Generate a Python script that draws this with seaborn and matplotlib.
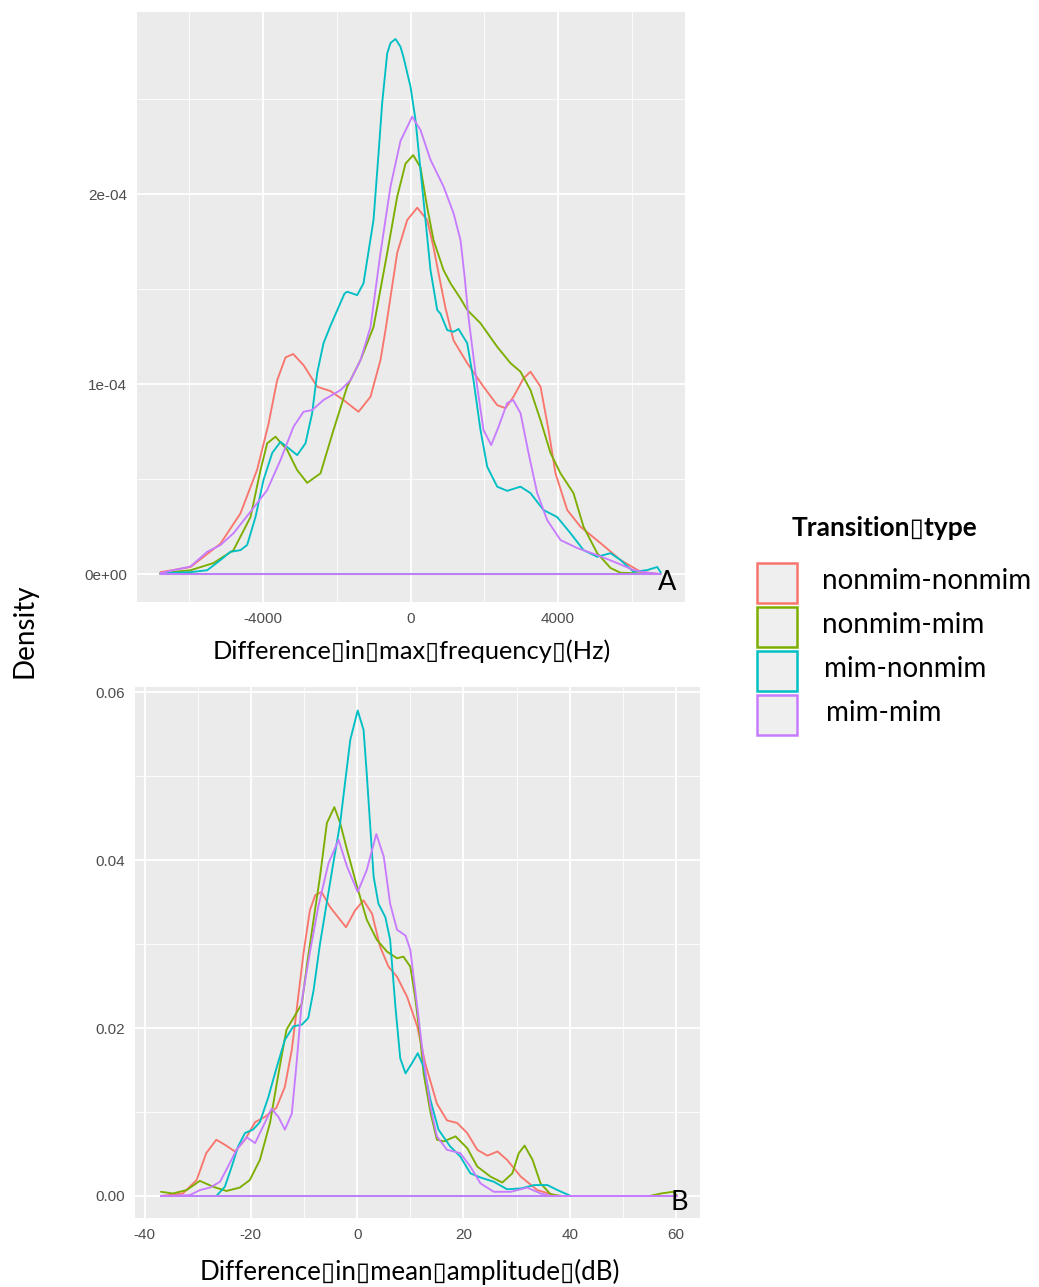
import numpy as np
import pandas as pd
import matplotlib
matplotlib.use("Agg")
import matplotlib.pyplot as plt
from matplotlib.patches import Rectangle
from matplotlib.ticker import FixedLocator
import seaborn as sns

# ---------------------------------------------------------------- data
types = ["nonmim-nonmim", "nonmim-mim", "mim-nonmim", "mim-mim"]
colors = ["#F8766D", "#7CAE00", "#00BFC4", "#C77CFF"]

# Panel A: difference in max frequency (Hz); density given in units of 1e-4
freq_nn_x = [-6780, -5966, -5153, -4610, -4158, -3851, -3616, -3390, -3182, -2902,
             -2531, -2170, -1817, -1410, -1085, -814, -678, -361, -90, 182,
             453, 624, 814, 949, 1166, 1538, 1980, 2351, 2576, 2793,
             3065, 3254, 3526, 3743, 3932, 4250, 4610, 5153, 5695, 6238, 6780]
freq_nn_y = [0.01, 0.037, 0.16, 0.32, 0.55, 0.79, 1.02, 1.14, 1.158, 1.10,
             0.986, 0.963, 0.916, 0.854, 0.933, 1.126, 1.284, 1.69, 1.863, 1.928,
             1.863, 1.72, 1.53, 1.40, 1.23, 1.11, 0.986, 0.889, 0.873, 0.933,
             1.03, 1.065, 0.986, 0.758, 0.53, 0.337, 0.249, 0.163, 0.074, 0.012, 0.0]

freq_nm_x = [-6780, -5966, -5343, -4800, -4339, -4068, -3887, -3661, -3345, -3073,
             -2802, -2441, -2088, -1718, -1356, -1003, -632, -361, -136, 73,
             271, 453, 624, 895, 1085, 1356, 1538, 1898, 2351, 2712,
             2983, 3254, 3526, 3797, 4068, 4420, 4692, 5063, 5424, 5695, 6780]
freq_nm_y = [0.005, 0.02, 0.058, 0.126, 0.30, 0.547, 0.688, 0.723, 0.653, 0.547,
             0.48, 0.53, 0.758, 0.986, 1.126, 1.30, 1.69, 1.986, 2.16, 2.205,
             2.14, 1.93, 1.758, 1.6, 1.53, 1.45, 1.39, 1.32, 1.196, 1.11,
             1.065, 0.968, 0.81, 0.637, 0.53, 0.426, 0.249, 0.11, 0.032, 0.007, 0.0]

freq_mn_x = [-6780, -5966, -5514, -5153, -4882, -4610, -4430, -4204, -3987, -3751,
             -3526, -3309, -3073, -2848, -2667, -2531, -2359, -2170, -1790, -1718,
             -1446, -1275, -1003, -868, -768, -632, -542, -407, -271, -190,
             0, 136, 271, 407, 542, 724, 814, 995, 1166, 1302,
             1538, 1709, 1898, 2080, 2351, 2622, 2983, 3254, 3607, 3978,
             4339, 4692, 5063, 5424, 5695, 6048, 6419, 6690, 6780]
freq_mn_y = [0.005, 0.01, 0.02, 0.074, 0.117, 0.126, 0.153, 0.30, 0.495, 0.637,
             0.696, 0.663, 0.626, 0.688, 0.847, 1.058, 1.215, 1.307, 1.476, 1.486,
             1.468, 1.53, 1.863, 2.21, 2.48, 2.74, 2.795, 2.816, 2.775, 2.72,
             2.565, 2.39, 2.126, 1.863, 1.6, 1.39, 1.37, 1.284, 1.275, 1.29,
             1.215, 1.02, 0.758, 0.565, 0.46, 0.438, 0.46, 0.426, 0.337, 0.30,
             0.215, 0.126, 0.091, 0.11, 0.074, 0.012, 0.021, 0.037, 0.01]

freq_mm_x = [-6780, -5966, -5514, -5153, -4800, -4339, -3887, -3526, -3173, -2902,
             -2667, -2359, -1898, -1627, -1356, -1085, -814, -542, -271, 46,
             271, 542, 895, 1166, 1356, 1470, 1573, 1809, 1980, 2189,
             2387, 2622, 2785, 2983, 3200, 3436, 3707, 4068, 4521, 5063,
             5606, 6048, 6419, 6780]
freq_mm_y = [0.005, 0.04, 0.117, 0.153, 0.215, 0.328, 0.442, 0.6, 0.775, 0.854,
             0.863, 0.916, 0.968, 1.02, 1.126, 1.30, 1.69, 2.04, 2.28, 2.407,
             2.337, 2.18, 2.04, 1.9, 1.758, 1.56, 1.35, 0.986, 0.758, 0.679,
             0.775, 0.9, 0.916, 0.847, 0.637, 0.426, 0.284, 0.179, 0.137, 0.1,
             0.058, 0.021, 0.007, 0.0]

# Panel B: difference in mean amplitude (dB)
amp_nn_x = [-36.9, -32.8, -30.2, -28.4, -26.5, -24.9, -23.0, -21.1, -19.2, -17.4,
            -15.2, -13.6, -12.3, -11.4, -10.1, -8.9, -7.9, -6.7, -5.1, -2.1,
            -0.4, 1.2, 2.8, 4.3, 5.9, 7.5, 9.4, 11.3, 12.8, 15.0,
            16.9, 18.8, 20.7, 22.6, 24.5, 26.4, 28.2, 30.8, 33.9, 37.7, 60.2]
amp_nn_y = [0.0, 0.0003, 0.0019, 0.0051, 0.0067, 0.0061, 0.0053, 0.0067, 0.0088, 0.0094,
            0.0105, 0.013, 0.0174, 0.0221, 0.0289, 0.034, 0.0358, 0.0362, 0.0344, 0.032,
            0.034, 0.0352, 0.0336, 0.0297, 0.0273, 0.0261, 0.0237, 0.0202, 0.0158, 0.011,
            0.009, 0.0087, 0.0075, 0.0055, 0.0048, 0.0053, 0.0043, 0.0023, 0.0007, 0.0, 0.0]

amp_nm_x = [-36.9, -34.7, -32.1, -29.6, -27.1, -24.6, -22.1, -20.2, -18.3, -16.4,
            -14.8, -13.3, -11.7, -10.4, -9.5, -8.2, -7.0, -5.7, -4.3, -3.2,
            -1.9, 0.0, 1.8, 3.7, 5.6, 7.5, 8.7, 10.0, 10.9, 11.9,
            12.5, 13.8, 15.0, 16.3, 18.5, 20.7, 22.6, 25.1, 27.3, 29.2,
            30.4, 31.5, 33.0, 34.5, 36.4, 38.5, 55.0, 57.2, 59.4, 60.2]
amp_nm_y = [0.0005, 0.0003, 0.0007, 0.0018, 0.0011, 0.0006, 0.001, 0.0019, 0.0043, 0.0087,
            0.0146, 0.0198, 0.0215, 0.0229, 0.0273, 0.0329, 0.038, 0.0444, 0.0463, 0.0444,
            0.0412, 0.0368, 0.0329, 0.0305, 0.0291, 0.0283, 0.0285, 0.0273, 0.0237, 0.0186,
            0.0146, 0.0099, 0.0067, 0.0065, 0.0071, 0.0057, 0.0035, 0.0023, 0.0016, 0.0027,
            0.0051, 0.006, 0.0043, 0.0015, 0.0002, 0.0, 0.0, 0.0003, 0.0005, 0.0]

amp_mn_x = [-36.9, -26.5, -24.9, -23.6, -22.4, -21.1, -19.6, -18.3, -16.7, -15.2,
            -13.6, -12.0, -10.4, -9.2, -8.2, -7.0, -5.7, -4.5, -3.2, -2.3,
            -1.3, 0.1, 1.2, 1.8, 2.5, 3.1, 4.0, 5.3, 6.2, 7.2,
            8.1, 9.1, 10.3, 11.4, 12.5, 13.8, 15.3, 17.5, 19.4, 21.3,
            23.2, 25.7, 28.2, 30.8, 33.3, 35.8, 37.7, 40.2, 60.2]
amp_mn_y = [0.0, 0.0, 0.0011, 0.0035, 0.0059, 0.0075, 0.0079, 0.0088, 0.0118, 0.0152,
            0.0186, 0.0202, 0.0204, 0.0212, 0.0245, 0.030, 0.035, 0.0396, 0.0444, 0.0491,
            0.0543, 0.0578, 0.0555, 0.0503, 0.0436, 0.038, 0.0348, 0.0332, 0.0305, 0.0225,
            0.0164, 0.0146, 0.0158, 0.017, 0.0154, 0.0114, 0.0079, 0.0059, 0.0047, 0.0027,
            0.0022, 0.0017, 0.0008, 0.0009, 0.0013, 0.0013, 0.0007, 0.0, 0.0]

amp_mm_x = [-36.9, -31.5, -29.6, -27.7, -25.8, -24.3, -22.7, -20.8, -19.2, -18.0,
            -16.1, -14.8, -13.6, -12.3, -11.4, -10.4, -8.9, -7.3, -5.4, -3.5,
            -1.9, 0.1, 1.8, 3.6, 5.0, 6.2, 7.5, 9.1, 10.0, 11.3,
            12.5, 13.8, 15.0, 16.9, 19.4, 21.3, 23.2, 25.7, 28.9, 32.0,
            34.5, 36.5, 60.2]
amp_mm_y = [0.0, 0.0001, 0.0007, 0.001, 0.0017, 0.0035, 0.0055, 0.007, 0.0063, 0.0079,
            0.0104, 0.0094, 0.0079, 0.0098, 0.0158, 0.0233, 0.029, 0.0345, 0.0396, 0.0424,
            0.0392, 0.0362, 0.0388, 0.0431, 0.0404, 0.0348, 0.0317, 0.031, 0.0293, 0.0225,
            0.0162, 0.0106, 0.0071, 0.0055, 0.0051, 0.0035, 0.0015, 0.0005, 0.0005, 0.001,
            0.0003, 0.0, 0.0]

freq_ticks = [-4000, 0, 4000]
freq_yticks = [0.0, 1e-4, 2e-4]
freq_ytick_labels = ["0e+00", "1e-04", "2e-04"]
amp_ticks = [-40, -20, 0, 20, 40, 60]
amp_yticks = [0.0, 0.02, 0.04, 0.06]
amp_ytick_labels = ["0.00", "0.02", "0.04", "0.06"]

title_font = ["Lato", "DejaVu Sans"]
BOX = "\u25AF"
freq_title = f"Difference{BOX}in{BOX}max{BOX}frequency{BOX}(Hz)"
amp_title = f"Difference{BOX}in{BOX}mean{BOX}amplitude{BOX}(dB)"
legend_title = f"Transition{BOX}type"


def outline_frame(series, scale=1.0):
    """Long table of closed density outlines (curve + baseline back to start)."""
    rows = []
    for name, (xs, ys) in zip(types, series):
        xs = list(xs) + [xs[-1], xs[0]]
        ys = [v * scale for v in ys] + [0.0, 0.0]
        for i, (xv, yv) in enumerate(zip(xs, ys)):
            rows.append({"x": xv, "density": yv, "type": name, "order": i})
    return pd.DataFrame(rows)


df_freq = outline_frame([(freq_nn_x, freq_nn_y), (freq_nm_x, freq_nm_y),
                         (freq_mn_x, freq_mn_y), (freq_mm_x, freq_mm_y)], scale=1e-4)
df_amp = outline_frame([(amp_nn_x, amp_nn_y), (amp_nm_x, amp_nm_y),
                        (amp_mn_x, amp_mn_y), (amp_mm_x, amp_mm_y)])

# ---------------------------------------------------------------- figure
sns.set_theme(style="white")
plt.rcParams["font.family"] = ["Liberation Sans", "DejaVu Sans"]

W, H = 1039, 1287
fig = plt.figure(figsize=(W / 100, H / 100), dpi=100)


def px_axes(left, top, right, bottom):
    return fig.add_axes([left / W, 1 - bottom / H, (right - left) / W, (bottom - top) / H])


ax1 = px_axes(137, 12, 685, 602)
ax2 = px_axes(135, 687, 700, 1218)


def style_panel(ax, xmajor, xminor, ymajor, yminor, ylabels):
    ax.set_facecolor("#EBEBEB")
    for s in ax.spines.values():
        s.set_visible(False)
    ax.xaxis.set_major_locator(FixedLocator(xmajor))
    ax.xaxis.set_minor_locator(FixedLocator(xminor))
    ax.yaxis.set_major_locator(FixedLocator(ymajor))
    ax.yaxis.set_minor_locator(FixedLocator(yminor))
    ax.set_yticklabels(ylabels)
    ax.grid(which="major", color="white", lw=1.3)
    ax.grid(which="minor", color="white", lw=0.6)
    ax.set_axisbelow(True)
    ax.tick_params(which="major", length=4, width=1.1, color="#333333",
                   labelcolor="#4D4D4D", labelsize=11, pad=3)
    ax.tick_params(which="minor", length=0)
    ax.set_xlabel("")
    ax.set_ylabel("")


for ax, df in ((ax1, df_freq), (ax2, df_amp)):
    sns.lineplot(data=df, x="x", y="density", hue="type", hue_order=types,
                 palette=colors, estimator=None, sort=False, legend=False,
                 lw=1.35, ax=ax)

ax1.set_xlim(-7417, 7444)
ax1.set_ylim(-0.147e-4, 2.958e-4)
style_panel(ax1, freq_ticks, [-6000, -2000, 2000, 6000], freq_yticks,
            [0.5e-4, 1.5e-4, 2.5e-4], freq_ytick_labels)
ax1.set_xticklabels([str(t) for t in freq_ticks])

ax2.set_xlim(-41.8, 64.5)
ax2.set_ylim(-0.00262, 0.0606)
style_panel(ax2, amp_ticks, [-30, -10, 10, 30, 50], amp_yticks,
            [0.01, 0.03, 0.05], amp_ytick_labels)
ax2.set_xticklabels([str(t) for t in amp_ticks])


def ftext(x, y, s, **kw):
    kw.setdefault("color", "black")
    fig.text(x / W, 1 - y / H, s, **kw)


# axis titles and panel letters
ftext(412, 651, freq_title, family=title_font, fontsize=18.3, ha="center", va="center")
ftext(410, 1272, amp_title, family=title_font, fontsize=18.6, ha="center", va="center")
ftext(25, 631, "Density", family=title_font, fontsize=20, rotation=90,
      ha="center", va="center")
ftext(667, 583, "A", family=title_font, fontsize=19.5, ha="center", va="center")
ftext(679, 1203, "B", family=title_font, fontsize=19.5, ha="center", va="center")

# legend
ftext(884, 528, legend_title, family=title_font, fontsize=19, fontweight="bold",
      ha="center", va="center")
key_tops = [563, 607, 651, 695]
label_x = [822, 822, 824, 826]
for name, col, top, lx in zip(types, colors, key_tops, label_x):
    fig.add_artist(Rectangle((757 / W, 1 - (top + 40) / H), 40 / W, 40 / H,
                             transform=fig.transFigure, facecolor="#EFEFEF",
                             edgecolor=col, lw=1.8))
    ftext(lx, top + 18, name, family=title_font, fontsize=20, ha="left", va="center")

fig.savefig("out.png", dpi=100)
